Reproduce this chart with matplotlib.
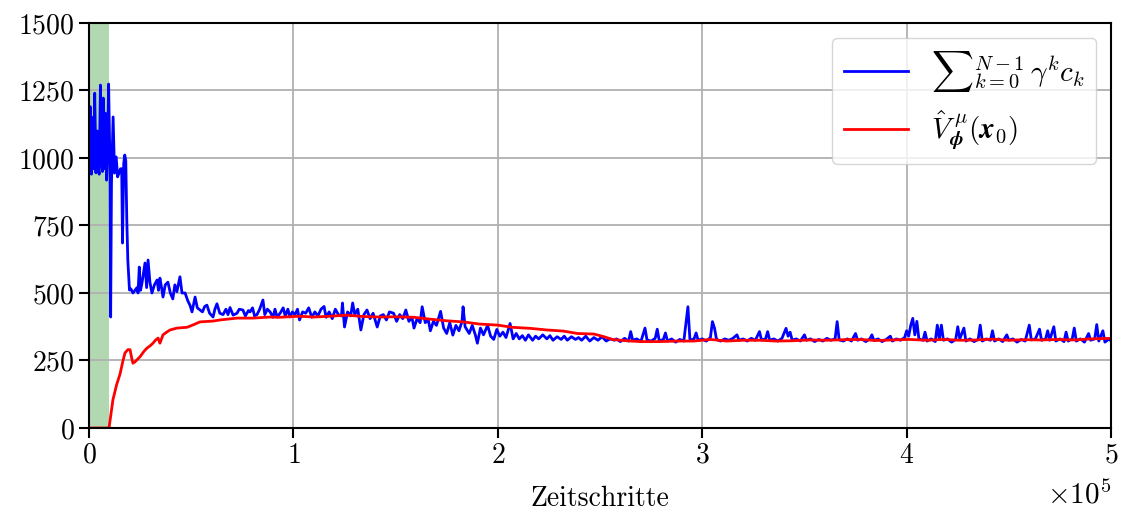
import numpy as np
import matplotlib
matplotlib.use('Agg')
import matplotlib.pyplot as plt

plt.rcParams['font.family'] = 'serif'
plt.rcParams['font.serif'] = ['cmr10', 'DejaVu Serif']
plt.rcParams['mathtext.fontset'] = 'cm'
plt.rcParams['axes.unicode_minus'] = False
plt.rcParams['axes.formatter.use_mathtext'] = True

# blue: discounted cost sum per episode (x in 1000 steps)
blue_x = [0.0, 0.6, 1.2, 1.8, 2.2, 2.8, 3.4, 4.0, 4.5, 5.0, 5.6, 6.2, 6.6, 7.0, 7.5, 8.0, 8.6, 9.0,
          9.6, 10.3, 10.6, 11.0, 11.8, 12.5, 13.3, 14.0, 14.7, 15.4, 16.0, 16.4, 17.0, 17.5, 18.0,
          18.5, 19.0, 19.8, 20.5, 21.5, 22.6, 23.5, 24.0, 24.6, 25.2,
          26, 27.4, 28.2, 28.9, 29.8, 30.8, 32, 33.3, 34, 34.7, 35.5, 36.2, 37.3, 38.6, 39.8, 41, 42,
          43, 44.5, 45.5, 47, 48.4, 49.4, 50.4, 51.2, 51.9, 53, 54.3, 55.5, 56.6, 57.7, 59, 60.7, 61.6,
          62.6, 64, 65.6, 67, 68, 69, 70.5, 72.4, 73.5, 75.3, 76.5, 78, 78.8, 80, 81, 82.2, 83.5, 85.1,
          86, 87.3, 88.6, 90, 91, 92, 93.5, 95, 96, 97.3, 98.3, 99.5, 100.8, 102, 103, 104.5,
          106, 107.5, 109, 110.5, 112, 113.5, 115, 116, 117.5, 119, 120.5, 122, 123.5, 124, 125, 126.5,
          128, 129, 130, 131.5, 133, 134.5, 136, 137.5, 139, 141, 142.5, 144, 145.5, 147, 149, 150.5,
          152, 153.5, 155, 156.5, 158, 159, 160.5, 162, 163, 164.5, 166, 167, 168.5, 170, 172, 173.5,
          175, 176.5, 178, 179.5, 181, 182.5, 183, 184, 186, 187.5, 189, 190, 191.5, 193, 195, 196.5,
          198, 199.5, 201, 202.5, 204, 206, 207.5, 209, 210.5, 212, 213.5, 215, 217, 218.5, 220, 222,
          224, 225.5, 227, 229, 231, 232.5, 234, 236, 238, 239.5, 241, 243, 245, 247, 249, 251, 253,
          255, 257,
          258, 260, 262, 264, 265, 266, 268, 270, 272, 273, 275, 277, 278, 279, 281, 282, 283, 285,
          287, 289, 291, 293, 294, 296, 297, 298, 300, 302, 304, 305, 306, 307, 309, 311, 313, 315,
          317, 318, 320, 322, 324, 326, 328, 329, 331, 332, 333, 335, 337, 339, 341, 342, 343, 344,
          346, 348, 350, 351, 353, 355, 357, 359, 361, 363, 365, 366, 367, 369, 371, 373, 375, 376,
          378, 380, 382, 383, 384, 386, 388, 390, 392, 393, 395, 397, 399, 400, 401, 402, 403, 404,
          405, 406, 408, 409, 410, 412, 414, 415, 416, 417, 418, 420, 422, 424, 425, 426, 428, 429,
          431, 433, 435, 436, 437, 439, 441, 442, 443, 445, 447, 449, 450, 452, 454, 456, 458, 460,
          461, 463, 465, 466, 468, 469, 470, 472, 473, 475, 477, 478, 479, 481, 482, 483, 485, 487,
          489, 490, 492, 493, 494, 496, 497, 499, 500]
blue_y = [950, 1190, 940, 1150, 960, 1240, 945, 1100, 960, 940, 1270, 990, 950, 1222, 960, 1166, 918, 1000,
          1274, 960, 411, 907, 1152, 944, 1004, 930, 944, 960, 960, 685, 980, 1011, 990,
          770, 622, 511, 515, 500, 511, 520, 500, 596, 510,
          540, 611, 520, 622, 540, 500, 530, 548, 510, 555, 520, 485, 530, 540, 500, 478, 530,
          505, 560, 500, 500, 470, 455, 430, 460, 485, 445, 437, 430, 450, 455, 425, 411, 440,
          460, 425, 420, 440, 420, 446, 418, 425, 440, 437, 415, 435, 430, 445, 415, 420, 440, 474,
          420, 440, 430, 410, 440, 411, 425, 445, 415, 440, 411, 430, 420, 440, 400, 430,
          425, 445, 410, 430, 415, 440, 450, 410, 430, 405, 440, 420, 415, 463, 374, 430,
          415, 463, 420, 440, 363, 420, 437, 405, 425, 374, 415, 420, 400, 430, 425, 395,
          420, 405, 437, 395, 410, 370, 405, 390, 449, 390, 400, 360, 395, 380, 432, 370,
          350, 390, 344, 380, 360, 395, 449, 375, 350, 380, 345, 314, 370, 345, 380, 340,
          328, 365, 340, 355, 335, 387, 330, 350, 330, 342, 325, 345, 325, 340, 330, 345,
          330, 342, 325, 338, 328, 340, 325, 338, 328, 335, 325, 340, 322, 335, 325, 338, 322,
          330, 325,
          330, 320, 332, 322, 357, 325, 330, 320, 370, 326, 322, 332, 366, 322, 328, 352, 322, 330,
          318, 328, 322, 449, 325, 330, 352, 325, 330, 322, 335, 394, 370, 328, 322, 330, 325, 332,
          345, 325, 330, 322, 332, 325, 357, 326, 330, 357, 325, 330, 322, 332, 369, 340, 355, 325,
          330, 322, 345, 325, 330, 320, 328, 322, 332, 325, 330, 394, 326, 322, 330, 322, 350, 325,
          330, 320, 330, 345, 324, 330, 320, 328, 340, 322, 330, 325, 335, 360, 340, 380, 406, 345,
          395, 330, 325, 355, 322, 330, 320, 381, 330, 381, 325, 330, 318, 328, 375, 330, 370, 322,
          330, 320, 328, 381, 322, 330, 325, 360, 322, 330, 320, 345, 325, 330, 318, 328, 322, 381,
          326, 330, 366, 325, 330, 360, 325, 375, 322, 330, 320, 355, 322, 330, 370, 322, 330, 318,
          350, 325, 330, 383, 322, 360, 318, 330, 322]

# red: value function estimate V(x0)
red_x = [0, 9.8, 11.7, 13.5, 15.2, 16.5, 17.6, 19, 20.1, 21, 21.5, 22.5, 25, 27, 28.4, 30, 31.3,
         32.5, 33.8, 34.7, 36.2, 38, 39.6, 43, 48, 51, 54.3, 60.7, 64, 72.4, 80.2, 88.6, 93, 103,
         110, 118, 126, 134, 142, 150, 159, 167, 175, 183, 191, 200, 207, 216, 224, 232, 239, 247,
         252, 256, 263, 270, 279, 288, 296, 304, 312, 320, 328, 336, 344, 352, 361, 369, 377, 385,
         393, 401, 410, 418, 426, 434, 442, 450, 458, 466, 474, 482, 490, 500]
red_y = [0, 0, 104, 160, 200, 245, 278, 290, 290, 255, 240, 245, 264, 285, 296, 305, 314,
         325, 333, 314, 345, 355, 363, 370, 373, 382, 393, 396, 400, 407, 407, 411, 410, 414,
         411, 414, 418, 413, 411, 412, 410, 403, 397, 393, 385, 381, 373, 369, 363, 359, 350, 348,
         338, 328, 323, 320, 320, 322, 322, 328, 322, 325, 325, 322, 323, 326, 325, 327, 328, 324,
         326, 328, 325, 328, 325, 326, 329, 325, 327, 326, 328, 326, 330, 332]

warmup_end = 10  # thousand steps

fig = plt.figure(figsize=(11.25, 5.13), dpi=100)
ax = fig.add_axes([0.0791, 0.1657, 0.9085, 0.7895])

ax.axvspan(0, warmup_end * 1e3, color='g', alpha=0.3, lw=0)
ax.plot(np.asarray(blue_x) * 1e3, blue_y, color='blue', lw=2.0,
        label=r'${\sum}_{k=0}^{N-1}\,\gamma^k c_k$')
ax.plot(np.asarray(red_x) * 1e3, red_y, color='red', lw=2.0,
        label=r'$\hat{V}^{\;\mu}_{\mathbfit{\phi}}(\mathbfit{x}_0)$')

ax.set_xlim(0, 5e5)
ax.set_ylim(0, 1500)
ax.set_yticks([0, 250, 500, 750, 1000, 1250, 1500])
ax.ticklabel_format(axis='x', style='sci', scilimits=(0, 0))
ax.xaxis.get_offset_text().set_visible(False)
ax.text(1.0, -0.165, r'$\times10^{5}$', transform=ax.transAxes, ha='right', va='center', fontsize=21)
ax.grid(True, color='#b0b0b0', lw=1.3)
for s in ax.spines.values():
    s.set_linewidth(1.5)
ax.tick_params(labelsize=20, width=1.5, length=7)
ax.set_xlabel('Zeitschritte', fontsize=20, labelpad=12)
ax.legend(loc='upper right', fontsize=21, framealpha=0.8, handlelength=2.2)

plt.savefig('out.png', dpi=100)
